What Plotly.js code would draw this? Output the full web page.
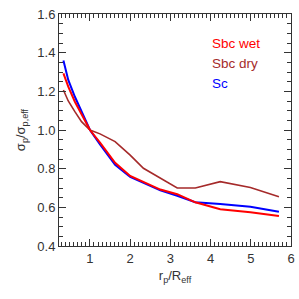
<!DOCTYPE html>
<html>
<head>
<meta charset="utf-8">
<script src="https://cdn.plot.ly/plotly-3.0.1.min.js"></script>
<style>html,body{margin:0;padding:0;background:#fff;}#chart{width:299px;height:299px;}</style>
</head>
<body>
<div id="chart"></div>
<script>
const radius = [0.34, 0.46, 0.625, 0.79, 1.0, 1.25, 1.625, 2.0, 2.33, 2.75, 3.17, 3.62, 4.24, 4.99, 5.7];
const sbcWet = [1.293, 1.224, 1.146, 1.078, 1.0, 0.935, 0.83, 0.762, 0.733, 0.692, 0.668, 0.626, 0.59, 0.575, 0.555];
const sbcDry = [1.207, 1.15, 1.095, 1.043, 1.0, 0.98, 0.94, 0.87, 0.802, 0.75, 0.70, 0.70, 0.733, 0.703, 0.655];
const sc = [1.36, 1.259, 1.172, 1.095, 1.0, 0.925, 0.82, 0.758, 0.728, 0.688, 0.66, 0.626, 0.617, 0.603, 0.577];
const seriesNames = ["Sbc wet", "Sbc dry", "Sc"];
const seriesColors = ["#ff0000", "#a52a2a", "#0000ff"];
const xTicks = [1, 2, 3, 4, 5, 6];
const yTicks = [0.4, 0.6, 0.8, 1.0, 1.2, 1.4, 1.6];

const FONT = 'Liberation Sans, Arial, sans-serif';
const series = [sbcWet, sbcDry, sc];
const widths = [2, 1.6, 2];
const traces = series.map((ys, i) => ({
  x: radius, y: ys, type: 'scatter', mode: 'lines', name: seriesNames[i],
  line: {color: seriesColors[i], width: widths[i]}, showlegend: false
}));
const order = [2, 1, 0];
const data = order.map(i => traces[i]);

const annotations = seriesNames.map((n, i) => ({
  xref: 'paper', yref: 'paper', x: 0.652, y: 0.875 - i * 0.087, xanchor: 'left', yanchor: 'middle',
  text: n, showarrow: false, font: {family: FONT, size: 13.5, color: seriesColors[i]}
}));

const tickStyle = {
  showgrid: false, zeroline: false, showline: true, linecolor: '#333', linewidth: 1,
  mirror: 'ticks', ticks: 'inside', ticklen: 7, tickcolor: '#333', tickwidth: 1,
  tickfont: {family: FONT, size: 13, color: '#333'}
};

const layout = {
  width: 299, height: 299,
  margin: {l: 59, r: 8, t: 14, b: 53},
  paper_bgcolor: '#fff', plot_bgcolor: '#fff',
  xaxis: Object.assign({}, tickStyle, {
    range: [0.23, 6], tickmode: 'array', tickvals: xTicks, ticktext: xTicks.map(String),
    minor: {dtick: 0.1, ticks: 'inside', ticklen: 4, tickcolor: '#333'},
    title: {text: 'r<sub>p</sub>/R<sub>eff</sub>', font: {family: FONT, size: 13, color: '#333'}, standoff: 6}
  }),
  yaxis: Object.assign({}, tickStyle, {
    range: [0.4, 1.6], tickmode: 'array', tickvals: yTicks, ticktext: yTicks.map(v => v.toFixed(1)),
    minor: {dtick: 0.05, ticks: 'inside', ticklen: 4, tickcolor: '#333'},
    title: {text: 'σ<sub>p</sub>/σ<sub>p,eff</sub>', font: {family: FONT, size: 13, color: '#333'}, standoff: 8}
  }),
  annotations: annotations
};

Plotly.newPlot('chart', data, layout, {staticPlot: true, displayModeBar: false});
</script>
</body>
</html>
